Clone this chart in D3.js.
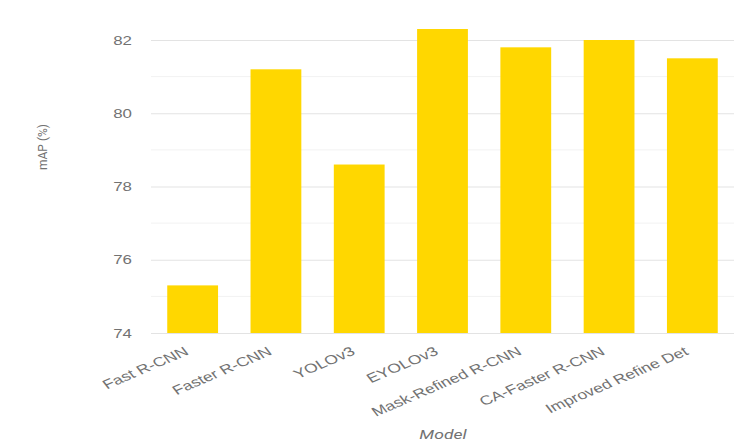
<!DOCTYPE html>
<html>
<head>
<meta charset="utf-8">
<script src="https://cdn.jsdelivr.net/npm/d3@7/dist/d3.min.js"></script>
<style>
  html, body { margin: 0; padding: 0; background: #fff; }
  svg { display: block; font-family: Roboto, "Liberation Sans", sans-serif; }
</style>
</head>
<body>
<svg id="chart" width="734" height="443"></svg>
<script>
const models = ["Fast R-CNN", "Faster R-CNN", "YOLOv3", "EYOLOv3", "Mask-Refined R-CNN", "CA-Faster R-CNN", "Improved Refine Det"];
const mapValues = [75.3, 81.2, 78.6, 82.3, 81.8, 82.0, 81.5];
const majorTicks = [74, 76, 78, 80, 82];
const minorTicks = [75, 77, 79, 81];

const SX = 1.35; // horizontal stretch of the text seen in the reference
const TXT = "#727272";
const svg = d3.select("#chart");
const x = d3.scaleBand().domain(models).range([151, 734]).paddingInner(0.39).paddingOuter(0.195);
const y = d3.scaleLinear().domain([74, 82]).range([333, 40]);

// minor gridlines
svg.append("g").selectAll("line").data(minorTicks).join("line")
  .attr("x1", 151).attr("x2", 734)
  .attr("y1", d => y(d)).attr("y2", d => y(d))
  .attr("stroke", "#f2f2f2").attr("stroke-width", 1);

// major gridlines + labels via axis
const yAxis = d3.axisLeft(y).tickValues(majorTicks).tickSize(-(734 - 151)).tickPadding(0);
const gy = svg.append("g").attr("transform", "translate(151,0)").call(yAxis);
gy.select(".domain").remove();
gy.selectAll(".tick line").attr("stroke", "#e3e3e3").attr("stroke-width", 1.2);
gy.selectAll(".tick text")
  .attr("x", null)
  .attr("fill", TXT).attr("font-size", 12.5)
  .attr("transform", `translate(-19,0) scale(${SX},1)`);

// bars
svg.append("g").selectAll("rect").data(models).join("rect")
  .attr("x", d => x(d))
  .attr("width", x.bandwidth())
  .attr("y", (d, i) => y(mapValues[i]))
  .attr("height", (d, i) => y(74) - y(mapValues[i]))
  .attr("fill", "#FFD700");

// x labels
const xAxis = d3.axisBottom(x).tickSize(0).tickPadding(0);
const gx = svg.append("g").attr("transform", "translate(0,333)").call(xAxis);
gx.select(".domain").remove();
gx.selectAll(".tick text")
  .attr("y", null)
  .attr("fill", TXT).attr("font-size", 13)
  .attr("text-anchor", "end")
  .attr("dy", null)
  .attr("transform", `translate(-3,21) scale(${SX},1) rotate(-30)`);

// axis titles
svg.append("text")
  .attr("transform", "translate(47,147) rotate(-90)")
  .attr("text-anchor", "middle")
  .attr("fill", TXT).attr("font-size", 12)
  .text("mAP (%)");
svg.append("text")
  .attr("transform", `translate(443,439) scale(${SX},1)`)
  .attr("text-anchor", "middle")
  .attr("fill", TXT).attr("font-size", 13)
  .attr("font-style", "italic")
  .text("Model");
</script>
</body>
</html>
